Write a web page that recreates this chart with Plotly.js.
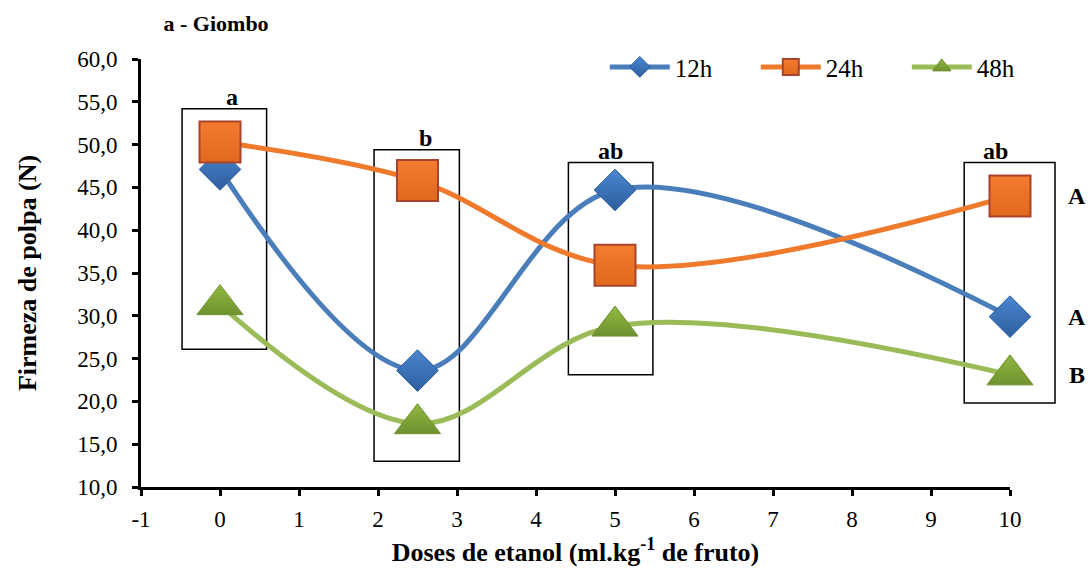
<!DOCTYPE html>
<html>
<head>
<meta charset="utf-8">
<script src="https://cdn.plot.ly/plotly-3.0.1.min.js"></script>
<style>
html,body{margin:0;padding:0;background:#fff;}
#chart{width:1090px;height:571px;}
</style>
</head>
<body>
<div id="chart"></div>
<script>
// Data
var doses = [0, 2.5, 5, 10];
var h12 = [47.1, 23.6, 44.7, 29.9];
var h24 = [50.3, 45.8, 35.9, 44.0];
var h48 = [31.3, 17.4, 28.8, 23.1];
var seriesNames = ['12h', '24h', '48h'];
var xTickVals = [-1, 0, 1, 2, 3, 4, 5, 6, 7, 8, 9, 10];
var xTickText = ['-1', '0', '1', '2', '3', '4', '5', '6', '7', '8', '9', '10'];
var groupLetters = ['a', 'b', 'ab', 'ab'];
var seriesLetters = ['A', 'A', 'B']; // for 24h, 12h, 48h at dose 10
// Box extents around each dose group (data units)
var boxX0 = [-0.48, 1.95, 4.41, 9.42];
var boxX1 = [0.59, 3.03, 5.48, 10.57];
var boxY0 = [26.1, 13.0, 23.1, 19.8];
var boxY1 = [54.2, 49.4, 47.9, 47.9];

var xRange = [-1, 10];
var yRange = [10, 60];
var font = 'Liberation Serif';

function px(x) { return (x - xRange[0]) / (xRange[1] - xRange[0]); }
function py(y) { return (y - yRange[0]) / (yRange[1] - yRange[0]); }

var traces = [
  {x: doses, y: h12, name: seriesNames[0], mode: 'lines+markers', cliponaxis: false,
   line: {color: '#4A7EBB', width: 5, shape: 'spline', smoothing: 1},
   marker: {symbol: 'diamond', size: 32, color: '#4A86D0', line: {color: '#2F5F9A', width: 1},
            gradient: {type: 'vertical', color: '#2E5E9E'}}},
  {x: doses, y: h24, name: seriesNames[1], mode: 'lines+markers', cliponaxis: false,
   line: {color: '#F07A2C', width: 5, shape: 'spline', smoothing: 1},
   marker: {symbol: 'square', size: 41, color: '#F47B30', line: {color: '#A8432C', width: 2},
            gradient: {type: 'vertical', color: '#E0691E'}}},
  {x: doses, y: h48, name: seriesNames[2], mode: 'lines+markers', cliponaxis: false,
   line: {color: '#9BBB59', width: 5, shape: 'spline', smoothing: 1},
   marker: {symbol: 'triangle-up', size: 40, color: '#92B840', line: {color: '#6F8F2E', width: 1},
            gradient: {type: 'vertical', color: '#6E9230'}}}
];

var shapes = [];
var annotations = [];
for (var i = 0; i < doses.length; i++) {
  shapes.push({type: 'rect', xref: 'paper', yref: 'paper',
    x0: px(boxX0[i]), x1: px(boxX1[i]), y0: py(boxY0[i]), y1: py(boxY1[i]),
    line: {color: '#000', width: 1.5}, fillcolor: 'rgba(0,0,0,0)', layer: 'below'});
  annotations.push({xref: 'paper', yref: 'paper', x: px((boxX0[i] + boxX1[i]) / 2), y: py(boxY1[i]),
    yanchor: 'bottom', yshift: -3, text: '<b>' + groupLetters[i] + '</b>', showarrow: false,
    font: {family: font, size: 24, color: '#000'}});
}
var lastVals = [h24[3], h12[3], h48[3]];
for (var j = 0; j < seriesLetters.length; j++) {
  annotations.push({xref: 'paper', yref: 'y', x: px(10.85), y: lastVals[j], xanchor: 'center',
    text: '<b>' + seriesLetters[j] + '</b>', showarrow: false,
    font: {family: font, size: 24, color: '#000'}});
}

var layout = {
  width: 1090, height: 571,
  margin: {l: 141, r: 80, t: 59, b: 84},
  paper_bgcolor: '#fff', plot_bgcolor: '#fff',
  separators: ',.',
  font: {family: font, size: 23, color: '#000'},
  title: {text: '<b>a - Giombo</b>', font: {family: font, size: 22, color: '#000'},
          xref: 'container', yref: 'container', x: 0.15, xanchor: 'left', y: 0.96, yanchor: 'middle'},
  showlegend: true,
  legend: {orientation: 'h', xref: 'paper', x: 1.055, xanchor: 'right', y: 0.981, yanchor: 'middle',
           font: {family: font, size: 25, color: '#000'}, itemwidth: 60,
           entrywidth: 76, entrywidthmode: 'pixels', bgcolor: 'rgba(0,0,0,0)', traceorder: 'normal'},
  xaxis: {range: xRange, tickmode: 'array', tickvals: xTickVals, ticktext: xTickText,
          showgrid: false, zeroline: false,
          showline: true, linecolor: '#000', linewidth: 3,
          ticks: 'outside', ticklen: 6, tickwidth: 3, tickcolor: '#000', ticklabelstandoff: 3,
          tickfont: {family: font, size: 23, color: '#000'},
          title: {text: '<b>Doses de etanol (ml.kg<sup>-1</sup> de fruto)</b>', standoff: 13,
                  font: {family: font, size: 26, color: '#000'}}},
  yaxis: {range: yRange, dtick: 5, tickformat: '.1f', showgrid: false, zeroline: false,
          showline: true, linecolor: '#000', linewidth: 3,
          ticks: 'outside', ticklen: 6, tickwidth: 3, tickcolor: '#000', ticklabelstandoff: 10,
          tickfont: {family: font, size: 23, color: '#000'},
          title: {text: '<b>Firmeza de polpa (N)</b>', standoff: 34,
                  font: {family: font, size: 26, color: '#000'}}},
  shapes: shapes,
  annotations: annotations
};

Plotly.newPlot('chart', traces, layout, {displayModeBar: false, staticPlot: true});
</script>
</body>
</html>
